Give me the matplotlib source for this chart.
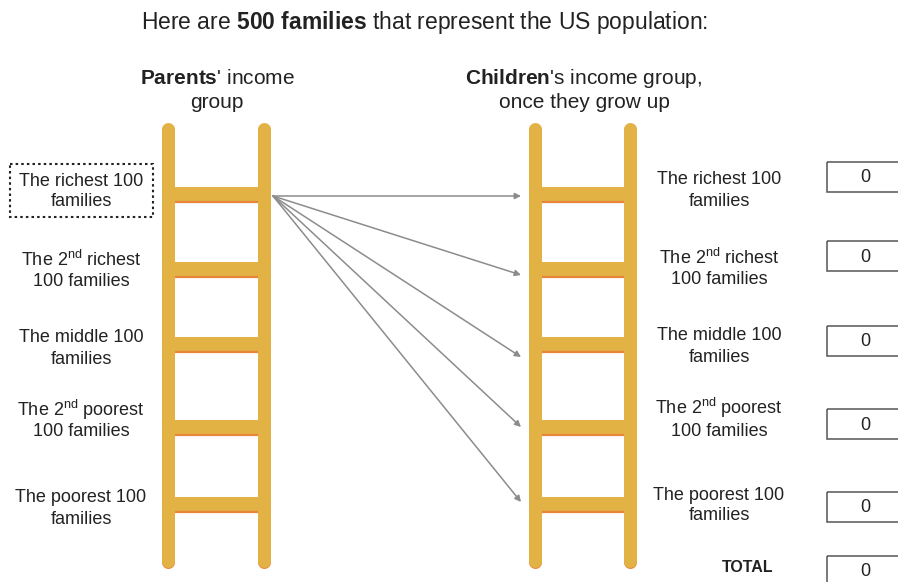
import matplotlib
matplotlib.use("Agg")
import matplotlib.pyplot as plt
from matplotlib.patches import Rectangle

plt.rcParams['font.family'] = ['Liberation Sans', 'DejaVu Sans']
plt.rcParams['mathtext.fontset'] = 'custom'
plt.rcParams['mathtext.rm'] = 'Liberation Sans'
plt.rcParams['mathtext.bf'] = 'Liberation Sans:bold'
plt.rcParams['mathtext.it'] = 'Liberation Sans:italic'

# Data
groups = [("The richest 100", "families"),
          ("The 2$^{\\mathrm{nd}}$ richest", "100 families"),
          ("The middle 100", "families"),
          ("The 2$^{\\mathrm{nd}}$ poorest", "100 families"),
          ("The poorest 100", "families")]
child_counts = [0, 0, 0, 0, 0]
source_group = 0  # parents' group the arrows start from
total = sum(child_counts)

# Layout (pixel coords, y downwards)
W, H = 898, 582
GOLD = '#E2B244'
ORANGE = '#E8853A'
TXT = '#222222'
rung_top = [187, 262, 337, 420, 497]
rung_h = 16
left_label_y = [191, 271, 348, 421, 508]
right_label_y = [190, 269, 346, 420, 505]
box_y = [177, 256, 341, 424, 507]
arrow_end_y = [196, 275, 357, 427, 502]

fig = plt.figure(figsize=(W / 100, H / 100), dpi=100)
ax = fig.add_axes([0, 0, 1, 1])
ax.set_xlim(0, W)
ax.set_ylim(H, 0)
ax.axis('off')

rail_w = 13
lw = rail_w * 0.72


def ladder(x1, x2, top=122, bottom=567):
    for t in rung_top:
        ax.add_patch(Rectangle((x1, t), x2 - x1, rung_h, color=GOLD, lw=0, zorder=2))
        ax.plot([x1 + rail_w / 2, x2 - rail_w / 2], [t + rung_h - 1, t + rung_h - 1],
                color=ORANGE, lw=1.6, zorder=3, solid_capstyle='butt')
    for x in (x1, x2):
        ax.plot([x, x], [top + rail_w / 2 + 1.5, bottom - rail_w / 2 + 1.5], color=ORANGE,
                lw=lw, solid_capstyle='round', zorder=4)
        ax.plot([x, x], [top + rail_w / 2, bottom - rail_w / 2], color=GOLD,
                lw=lw, solid_capstyle='round', zorder=5)


ladder(168, 264)
ladder(535, 630)

# arrows from parents' group to every children's group
for y in arrow_end_y:
    ax.annotate('', xy=(521, y), xytext=(273, arrow_end_y[source_group]),
                arrowprops=dict(arrowstyle='-|>', color='#8C8C8C', lw=1.1,
                                mutation_scale=9, shrinkA=0, shrinkB=0), zorder=6)


def two_lines(x, y, lines, size=13, gap=21, **kw):
    # place each line on its own baseline so math lines keep the same spacing
    for i, s in enumerate(lines):
        base = y - gap / 2 + i * gap + 5
        ax.text(x, base, s, ha='center', va='baseline', fontsize=size, color=TXT, **kw)


for g, y in zip(groups, left_label_y):
    two_lines(81, y, g)
for g, y in zip(groups, right_label_y):
    two_lines(719, y, g)

# dotted box around the source group
ax.add_patch(Rectangle((10, 164), 143, 53, fill=False, ec=TXT, lw=1.5,
                       ls=(0, (1.2, 1.5)), zorder=7))

# value boxes
for v, y in zip(child_counts, box_y):
    ax.add_patch(Rectangle((827, y - 15), 90, 30, fill=False, ec='#555555', lw=1.1))
    ax.text(865, y + 1, str(v), ha='center', va='center', fontsize=13, color=TXT)
ax.add_patch(Rectangle((827, 556), 90, 40, fill=False, ec='#555555', lw=1.1))
ax.text(865, 572, str(total), ha='center', va='center', fontsize=13, color=TXT)
ax.text(748, 568, 'TOTAL', ha='center', va='center', fontsize=11.5, fontweight='bold', color=TXT)

# titles
ax.text(425, 23, "Here are $\\mathbf{500\\ families}$ that represent the US population:",
        ha='center', va='center', fontsize=16.5, color=TXT)
two_lines(217, 91, ("$\\mathbf{Parents}$' income", "group"), size=15, gap=25)
two_lines(584, 91, ("$\\mathbf{Children}$'s income group,", "once they grow up"), size=15, gap=25)

fig.savefig('out.png', dpi=100, facecolor='white')
